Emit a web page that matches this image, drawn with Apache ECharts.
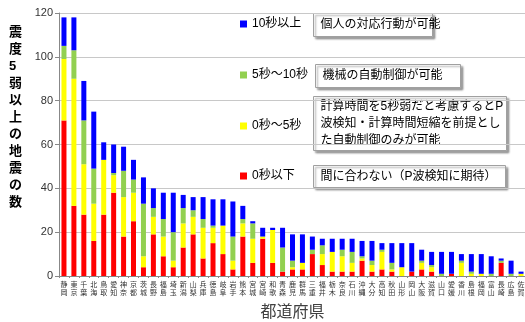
<!DOCTYPE html>
<html>
<head>
<meta charset="utf-8">
<script src="https://cdn.jsdelivr.net/npm/echarts@6/dist/echarts.min.js"></script>
<style>
  html, body { margin: 0; padding: 0; background: #fff; }
  #chart { width: 525px; height: 322px; }
</style>
</head>
<body>
<div id="chart"></div>
<script>
// 都道府県別 震度5弱以上の地震の数（猶予時間別の内訳）
const prefectures = ['静岡','東京','千葉','北海','鳥取','愛知','神奈','京都','茨城','長野','福島','埼玉','新潟','山梨','兵庫','徳島','岐阜','岩手','熊本','宮城','宮崎','和歌','青森','鹿児','群馬','三重','福井','栃木','奈良','石川','沖縄','大分','高知','秋田','山形','岡山','大阪','滋賀','山口','愛媛','香川','島根','福岡','富山','長崎','広島','佐賀'];

const seriesNames = ['0秒以下', '0秒～5秒', '5秒～10秒', '10秒以上'];

const under0  = [71,32,28,16,28,38,18,25,4,19,9,4,13,19,8,15,10,3,18,6,17,6,2,3,3,10,5,2,2,2,7,2,3,2,0,2,3,2,0,1,0,0,0,0,6,0,0];
const sec0to5 = [28,58,23,17,25,8,18,13,5,8,9,3,11,8,14,7,13,4,6,11,1,15,0,1,3,0,5,9,7,4,1,3,8,1,4,0,3,2,0,0,6,1,1,0,0,0,1];
const sec5to10 = [6,13,20,16,0,1,12,6,24,4,8,13,7,3,4,1,0,11,2,7,0,0,11,3,0,2,4,0,3,5,1,2,1,3,0,0,1,1,1,0,1,1,0,1,1,1,0];
const over10  = [13,15,18,26,8,13,11,9,12,9,12,18,6,6,10,12,12,16,6,1,4,1,9,12,13,6,3,6,5,6,7,9,3,9,11,13,5,6,10,10,3,8,9,8,1,6,1];

const yTicks = { min: 0, max: 120, interval: 20 };

const colors = { '0秒以下': '#FF0000', '0秒～5秒': '#FFFF00', '5秒～10秒': '#92D050', '10秒以上': '#0000FF' };
const values = { '0秒以下': under0, '0秒～5秒': sec0to5, '5秒～10秒': sec5to10, '10秒以上': over10 };

const FONT = '"Liberation Sans", "Noto Sans CJK JP", sans-serif';

const chart = echarts.init(document.getElementById('chart'), null, { renderer: 'canvas' });

// legend entries on the left of each note box
const legendRows = [
  { name: '10秒以上', top: 18 },
  { name: '5秒～10秒', top: 69 },
  { name: '0秒～5秒', top: 120 },
  { name: '0秒以下', top: 170 }
];

// note boxes
function noteBox(x, y, w, h, lines) {
  return {
    type: 'group',
    left: x, top: y,
    children: [
      {
        type: 'rect',
        shape: { x: 0, y: 0, width: w, height: h },
        style: { fill: '#fff', stroke: '#a0a0a0', lineWidth: 1,
                 shadowBlur: 2, shadowOffsetX: 2, shadowOffsetY: 2, shadowColor: 'rgba(0,0,0,0.35)' }
      },
      {
        type: 'text',
        x: 7, y: h / 2,
        style: { text: lines.join('\n'), font: '12px ' + FONT, fill: '#000',
                 lineHeight: 17, verticalAlign: 'middle', align: 'left' }
      }
    ]
  };
}

const option = {
  animation: false,
  backgroundColor: '#fff',
  textStyle: { fontFamily: FONT },
  grid: { left: 59, right: -1, top: 13, bottom: 46, containLabel: false, outerBoundsMode: 'none' },
  legend: legendRows.map(r => ({
    data: [r.name],
    left: 240, top: r.top,
    padding: 0,
    icon: 'rect', itemWidth: 7, itemHeight: 7,
    selectedMode: false,
    textStyle: { fontSize: 12, color: '#000', fontFamily: FONT }
  })),
  xAxis: {
    type: 'category',
    data: prefectures,
    name: '都道府県',
    nameLocation: 'middle',
    nameGap: 29,
    nameTextStyle: { fontSize: 16, color: '#404040', fontFamily: FONT },
    axisLine: { lineStyle: { color: '#888', width: 1 } },
    axisTick: { show: true, length: 2, lineStyle: { color: '#888' } },
    axisLabel: {
      interval: 0, fontSize: 7, lineHeight: 8, color: '#333', margin: 5,
      formatter: v => v.split('').join('\n')
    }
  },
  yAxis: {
    type: 'value',
    min: yTicks.min, max: yTicks.max, interval: yTicks.interval,
    axisLine: { show: true, lineStyle: { color: '#888', width: 1 } },
    axisTick: { show: true, length: 4, lineStyle: { color: '#888' } },
    axisLabel: { fontSize: 11, color: '#333', margin: 6 },
    splitLine: { lineStyle: { color: '#c8c8c8', width: 1 } }
  },
  series: seriesNames.map(name => ({
    name: name,
    type: 'bar',
    stack: 'total',
    barWidth: 5,
    data: values[name],
    itemStyle: { color: colors[name] }
  })),
  graphic: [
    {
      type: 'text',
      left: 9, top: 24,
      style: {
        text: '震度5弱以上の地震の数'.split('').join('\n'),
        font: 'bold 13px ' + FONT, fill: '#000', lineHeight: 17, align: 'center'
      }
    },
    noteBox(313, 13, 119, 23, ['個人の対応行動が可能']),
    noteBox(315, 64, 145, 23, ['機械の自動制御が可能']),
    noteBox(313, 96, 193, 54, ['計算時間を5秒弱だと考慮するとP', '波検知・計算時間短縮を前提とし', 'た自動制御のみが可能']),
    noteBox(313, 165, 192, 22, ['間に合わない（P波検知に期待）'])
  ]
};

chart.setOption(option);
</script>
</body>
</html>
